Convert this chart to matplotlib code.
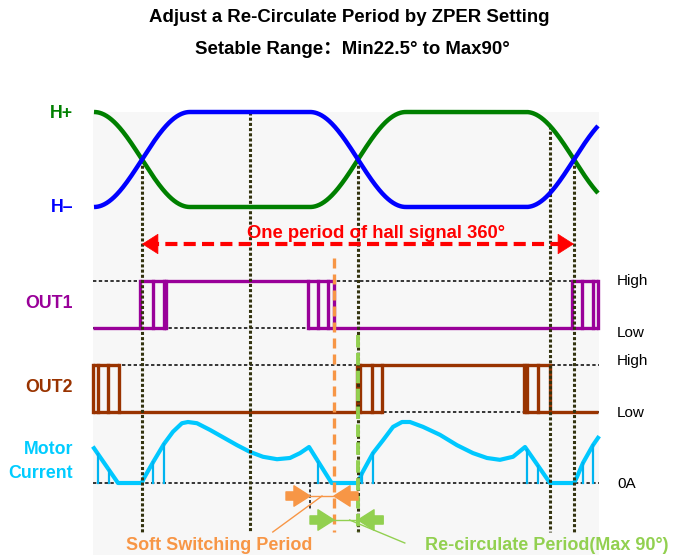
import numpy as np
import matplotlib
matplotlib.use('Agg')
import matplotlib.pyplot as plt
from matplotlib.patches import Rectangle

plt.rcParams['font.family'] = ['Liberation Sans', 'Noto Sans CJK SC', 'DejaVu Sans']

# ---- data (x in electrical degrees, 0 = first hall crossing) ----
hall_deg = [-40, 40, 140, 220, 320, 400]
hall_pos = [1, 0, 0, 1, 1, 0]          # H+ level, H- is the complement
marker_deg = [0, 90, 180, 340, 360]

out1_high = [(-2, 160), (358, 380)]
out1_low = [(-41, 20), (138, 380)]
out1_edges = [-2, 9, 18, 20, 138, 147, 155, 160, 358, 367, 376, 380]

out2_high = [(-41, -19), (179, 340)]
out2_low = [(-41, 200), (318, 380)]
out2_edges = [-41, -37, -28, -19, 179, 182, 192, 200, 318, 321, 330, 340]

cur_deg = [-40, -20, 0, 0.8, 9.2, 18.3, 25.8, 33.3, 38.3, 45.8, 56.7, 67.5, 79.2, 90,
           100.8, 112.5, 123.3, 131.7, 139.2, 158, 180, 183.3, 192.5, 200.8, 209.2,
           216.7, 223.3, 234.2, 248.3, 262.5, 275.8, 287.5, 298.3, 309.2, 319.2, 340,
           360, 362.5, 367.5, 375.8, 380]
cur_val = [0.57, 0, 0, 0.05, 0.34, 0.64, 0.84, 0.98, 1.0, 0.98, 0.87, 0.75, 0.62, 0.51,
           0.43, 0.39, 0.41, 0.49, 0.59, 0, 0, 0.16, 0.49, 0.70, 0.92,
           1.0, 1.0, 0.92, 0.79, 0.62, 0.49, 0.41, 0.38, 0.43, 0.59, 0,
           0, 0.10, 0.33, 0.62, 0.74]
chop_deg = [-36.7, -27.5, 9.2, 18.3, 146.7, 183.3, 192.5, 320.8, 330, 367.5, 375.8]
chop_val = [0.48, 0.21, 0.34, 0.64, 0.34, 0.16, 0.49, 0.54, 0.28, 0.33, 0.62]

soft_start, soft_end, recirc_end = 140, 160, 180

# ---- layout ----
W, H = 673, 558
PX, X0 = 1.2, 142
HALL_HI, HALL_LO = 112, 207
OUT1_HI, OUT1_LO = 281, 328
OUT2_HI, OUT2_LO = 365, 412
I0, ISC = 483, 61
LEFT, RIGHT = -40.8, 380.5
LBL = (73 - X0) / PX
RLBL = (617 - X0) / PX

GREEN, BLUE = '#008000', '#0000FF'
PURPLE, BROWN = '#990099', '#993300'
CYAN = '#00C8FF'
ORANGE, LGREEN, RED = '#F79646', '#92D050', '#FF0000'
DOT = '#33330F'


def ease(xk, yk, x):
    out = np.empty_like(x)
    for i in range(len(xk) - 1):
        m = (x >= xk[i]) & (x <= xk[i + 1])
        t = (x[m] - xk[i]) / (xk[i + 1] - xk[i])
        out[m] = yk[i] + (yk[i + 1] - yk[i]) * (1 - np.cos(np.pi * t)) / 2
    return out


fig = plt.figure(figsize=(6.73, 5.58), dpi=100)
ax = fig.add_axes([0, 0, 1, 1])
ax.set_xlim(-X0 / PX, (W - X0) / PX)
ax.set_ylim(H, 0)
ax.axis('off')

ax.add_patch(Rectangle((LEFT, HALL_HI), RIGHT - LEFT, 555 - HALL_HI,
                       facecolor='#F7F7F7', edgecolor='none', zorder=0))

# titles
ax.text(173, 17, 'Adjust a Re-Circulate Period by ZPER Setting', ha='center', va='center',
        fontsize=13.4, fontweight='bold')
ax.text(175, 50, 'Setable Range：Min22.5° to Max90°', ha='center', va='center',
        fontsize=13.4, fontweight='bold')

# hall signals
xs = np.linspace(-40, 380, 800)
hp = ease(hall_deg, hall_pos, xs)
ax.plot(xs, HALL_LO - (HALL_LO - HALL_HI) * hp, color=GREEN, lw=3.2, zorder=5,
        solid_capstyle='butt')
ax.plot(xs, HALL_LO - (HALL_LO - HALL_HI) * (1 - hp), color=BLUE, lw=3.2, zorder=5,
        solid_capstyle='butt')

# vertical markers
for d in marker_deg:
    lv = ease(hall_deg, hall_pos, np.array([float(d)]))[0]
    top = HALL_LO - (HALL_LO - HALL_HI) * max(lv, 1 - lv)
    ax.plot([d, d], [top, 532], color=DOT, lw=2.2, ls=(0, (1, 0.7)), zorder=4)

# guide lines
for y in [OUT1_HI, OUT1_LO, OUT2_HI, OUT2_LO, I0]:
    ax.plot([LEFT, RIGHT], [y, y], color='black', lw=1.1, ls=(0, (2.2, 1.6)), zorder=1)


def pwm(high, low, edges, hi, lo, color):
    for a, b in high:
        ax.plot([a, b], [hi, hi], color=color, lw=2.4, zorder=3, solid_capstyle='butt')
    for a, b in low:
        ax.plot([a, b], [lo, lo], color=color, lw=2.4, zorder=3, solid_capstyle='butt')
    for e in edges:
        ax.plot([e, e], [hi, lo], color=color, lw=2.4, zorder=3, solid_capstyle='projecting')


pwm(out1_high, out1_low, out1_edges, OUT1_HI, OUT1_LO, PURPLE)
pwm(out2_high, out2_low, out2_edges, OUT2_HI, OUT2_LO, BROWN)

# motor current
ax.plot(cur_deg, [I0 - ISC * v for v in cur_val], color=CYAN, lw=3, zorder=3,
        solid_joinstyle='round')
for d, v in zip(chop_deg, chop_val):
    ax.plot([d, d], [I0, I0 - ISC * v], color='#00B4F0', lw=1.6, zorder=3)

# one period arrow
ax.plot([4, 356], [244, 244], color=RED, lw=3, ls=(0, (2.9, 1.5)), zorder=6)
for tail, tip in [(8, 0), (352, 360)]:
    ax.annotate('', xy=(tip, 244), xytext=(tail, 244),
                arrowprops=dict(arrowstyle='-|>,head_length=0.55,head_width=0.35',
                                mutation_scale=20, color=RED, lw=0.5,
                                shrinkA=0, shrinkB=0), zorder=6)
ax.text(195, 233, 'One period of hall signal 360°', ha='center', va='center',
        fontsize=13.3, fontweight='bold', color=RED, zorder=7)

# soft switching / re-circulate markers
ax.plot([soft_end, soft_end], [258, 532], color=ORANGE, lw=2.4, ls=(0, (3, 1.8)), zorder=6)
ax.plot([recirc_end, recirc_end], [335, 532], color=LGREEN, lw=2.8, ls=(0, (3.2, 1.4)), zorder=6)
ax.plot([soft_start, soft_start], [484, 510], color='black', lw=1.1, ls=(0, (2, 1.5)), zorder=4)


def fat_arrow(tail, tip, y, color):
    ax.annotate('', xy=(tip, y), xytext=(tail, y),
                arrowprops=dict(arrowstyle='simple,head_length=0.55,head_width=0.7,tail_width=0.28',
                                mutation_scale=21, color=color, shrinkA=0, shrinkB=0), zorder=6)


fat_arrow(soft_start - 20, soft_start, 496, ORANGE)
fat_arrow(soft_end + 20, soft_end, 496, ORANGE)
ax.plot([soft_start, soft_end], [496, 496], color=ORANGE, lw=1, zorder=6)
ax.plot([150, 109], [496, 532], color=ORANGE, lw=1, zorder=6)

fat_arrow(soft_start, soft_end, 520, LGREEN)
fat_arrow(recirc_end + 21, recirc_end, 520, LGREEN)
ax.plot([soft_end, recirc_end], [520, 520], color=LGREEN, lw=1, zorder=6)
ax.plot([173, 219], [520, 543], color=LGREEN, lw=1, zorder=6)

ax.text(64, 545, 'Soft Switching Period', ha='center', va='center', fontsize=13,
        fontweight='bold', color=ORANGE)
ax.text(337.5, 545, 'Re-circulate Period(Max 90°)', ha='center', va='center', fontsize=13,
        fontweight='bold', color=LGREEN)

# left labels
lab = dict(ha='right', va='center', fontsize=12.8, fontweight='bold')
ax.text(LBL, 113, 'H+', color=GREEN, **lab)
ax.text(LBL, 208, 'H–', color=BLUE, **lab)
ax.text(LBL, 304, 'OUT1', color=PURPLE, **lab)
ax.text(LBL, 388, 'OUT2', color=BROWN, **lab)
ax.text(LBL, 449, 'Motor', color='#00CCFF', **lab)
ax.text(LBL, 474, 'Current', color='#00CCFF', **lab)

# right labels
rl = dict(ha='left', va='center', fontsize=11)
ax.text(RLBL, 281, 'High', **rl)
ax.text(RLBL, 333, 'Low', **rl)
ax.text(RLBL, 361, 'High', **rl)
ax.text(RLBL, 413, 'Low', **rl)
ax.text(RLBL, 484, '0A', **rl)

fig.savefig('out.png', dpi=100)
